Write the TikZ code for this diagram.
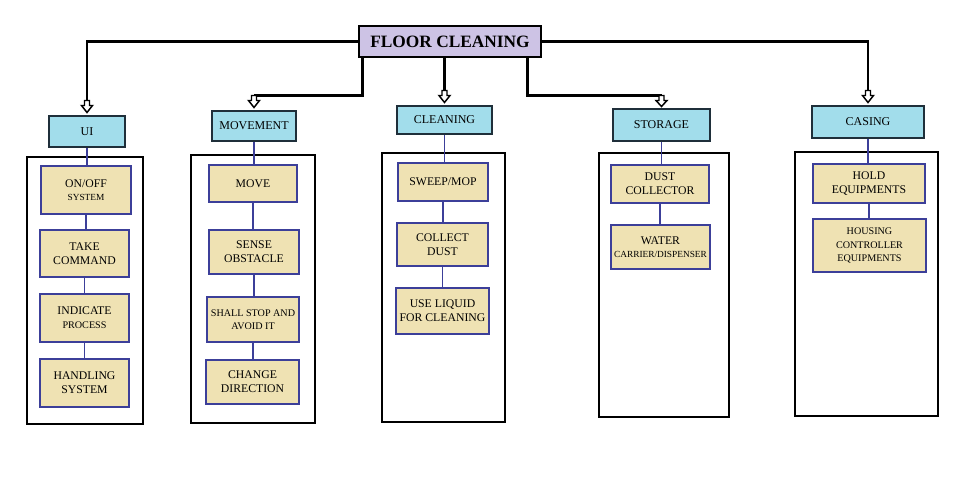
\documentclass[tikz,border=0pt]{standalone}
\usepackage{fontspec}
\setmainfont{Liberation Serif}
\newcommand\txtA{\fontsize{8.8pt}{10.5pt}\selectfont}
\newcommand\txtS{\fontsize{7pt}{9.5pt}\selectfont}
\newcommand\txtM{\fontsize{7.6pt}{10pt}\selectfont}
\definecolor{lav}{HTML}{CDC3E5}
\definecolor{cyanbox}{HTML}{A2DDEB}
\definecolor{cyanedge}{HTML}{1F2F3A}
\definecolor{wheatbox}{HTML}{EFE2B3}
\definecolor{navy}{HTML}{3C3F99}
\begin{document}
\begin{tikzpicture}[x=0.75pt,y=-0.75pt,
  sz/.style n args={2}{minimum width=#1*0.75pt,minimum height=#2*0.75pt},
  rootbox/.style={draw=black,line width=2.2pt,fill=lav,inner sep=0pt,font=\fontsize{13pt}{15pt}\selectfont\bfseries},
  topbox/.style={draw=cyanedge,line width=1.5pt,fill=cyanbox,inner sep=0pt,font=\fontsize{9pt}{11pt}\selectfont},
  cont/.style={draw=black,line width=1.1pt,fill=white,inner sep=0pt},
  item/.style={draw=navy,line width=1.3pt,fill=wheatbox,inner sep=0pt,align=center,font=\txtA},
  conn/.style={draw=black,line width=1.6pt},
  inner/.style={draw=navy,line width=1.1pt},
  barrow/.style={draw=black,line width=1.1pt,fill=white,line join=miter}
]
\useasboundingbox (0,0) rectangle (968,490);
\newcommand\blockarrow[1]{\draw[barrow] (#1) ++(0,-2.5) -- ++(5.5,-7) -- ++(-3,0) -- ++(0,-5) -- ++(-5,0) -- ++(0,5) -- ++(-3,0) -- cycle;}

% root
\node[rootbox,sz={182}{31}] (fc) at (450,41.5) {FLOOR CLEANING};

% top boxes
\node[topbox,sz={76}{31}] (ui) at (87,131.5) {UI};
\node[topbox,sz={84}{30}] (mv) at (254,126) {MOVEMENT};
\node[topbox,sz={95}{28}] (cl) at (444.5,120) {CLEANING};
\node[topbox,sz={97}{32}] (st) at (661.5,125) {STORAGE};
\node[topbox,sz={112}{32}] (ca) at (868,122) {CASING};

% connectors from root
\draw[conn] (fc.west) -| ([yshift=14.5*0.75pt]ui.north);
\draw[conn] ([xshift=5*0.75pt]fc.south west) |- ([yshift=14.5*0.75pt]mv.north);
\draw[conn] (cl.north |- fc.south) -- ([yshift=14.5*0.75pt]cl.north);
\draw[conn] ([xshift=-15*0.75pt]fc.south east) |- ([yshift=12.5*0.75pt]st.north);
\draw[conn] (fc.east) -| ([yshift=14.5*0.75pt]ca.north);
\blockarrow{ui.north}
\blockarrow{mv.north}
\blockarrow{cl.north}
\draw[barrow] (st.north) ++(0,-1.5) -- ++(5.5,-6) -- ++(-3,0) -- ++(0,-5) -- ++(-5,0) -- ++(0,5) -- ++(-3,0) -- cycle;
\blockarrow{ca.north}

% containers
\node[cont,sz={116}{267}] (uic) at (85,290.5) {};
\node[cont,sz={124}{268}] (mvc) at (253,289) {};
\node[cont,sz={123}{269}] (clc) at (443.5,287.5) {};
\node[cont,sz={130}{264}] (stc) at (664,285) {};
\node[cont,sz={143}{264}] (cac) at (866.5,284) {};

% UI items
\node[item,sz={90}{48}] (u1) at (86,190) {ON/OFF\\[-1pt]{\txtS SYSTEM}};
\node[item,sz={89}{47}] (u2) at (84.5,253.5) {TAKE\\COMMAND};
\node[item,sz={89}{48}] (u3) at (84.5,318) {INDICATE\\{\txtM PROCESS}};
\node[item,sz={89}{48}] (u4) at (84.5,383) {HANDLING\\SYSTEM};

% MOVEMENT items
\node[item,sz={88}{37}] (m1) at (253,183.5) {MOVE};
\node[item,sz={90}{44}] (m2) at (254,252) {SENSE\\OBSTACLE};
\node[item,sz={92}{45},font=\txtM] (m3) at (253,319.5) {SHALL STOP AND\\AVOID IT};
\node[item,sz={93}{44}] (m4) at (252.5,382) {CHANGE\\DIRECTION};

% CLEANING items
\node[item,sz={90}{38}] (c1) at (443,182) {SWEEP/MOP};
\node[item,sz={91}{43}] (c2) at (442.5,244.5) {COLLECT\\DUST};
\node[item,sz={93}{46}] (c3) at (442.5,311) {USE LIQUID\\FOR CLEANING};

% STORAGE items
\node[item,sz={98}{38}] (s1) at (660,184) {DUST\\COLLECTOR};
\node[item,sz={99}{44}] (s2) at (660.5,247) {WATER\\[-1pt]{\txtS CARRIER/DISPENSER}};

% CASING items
\node[item,sz={112}{39}] (a1) at (869,183.5) {HOLD\\EQUIPMENTS};
\node[item,sz={113}{53},font=\txtM] (a2) at (869.5,245.5) {HOUSING\\CONTROLLER\\EQUIPMENTS};

% inner connectors
\draw[inner] (ui.south) -- (ui.south |- u1.north);
\draw[inner] (u1.south) -- (u1.south |- u2.north);
\draw[inner] (u2.south) -- (u2.south |- u3.north);
\draw[inner] (u3.south) -- (u3.south |- u4.north);
\draw[inner] (mv.south) -- (mv.south |- m1.north);
\draw[inner] (m1.south) -- (m1.south |- m2.north);
\draw[inner] (m2.south) -- (m2.south |- m3.north);
\draw[inner] (m3.south) -- (m3.south |- m4.north);
\draw[inner] (cl.south) -- (cl.south |- c1.north);
\draw[inner] (c1.south) -- (c1.south |- c2.north);
\draw[inner] (c2.south) -- (c2.south |- c3.north);
\draw[inner] (st.south) -- (st.south |- s1.north);
\draw[inner] (s1.south) -- (s1.south |- s2.north);
\draw[inner] (ca.south) -- (ca.south |- a1.north);
\draw[inner] (a1.south) -- (a1.south |- a2.north);
\end{tikzpicture}
\end{document}
